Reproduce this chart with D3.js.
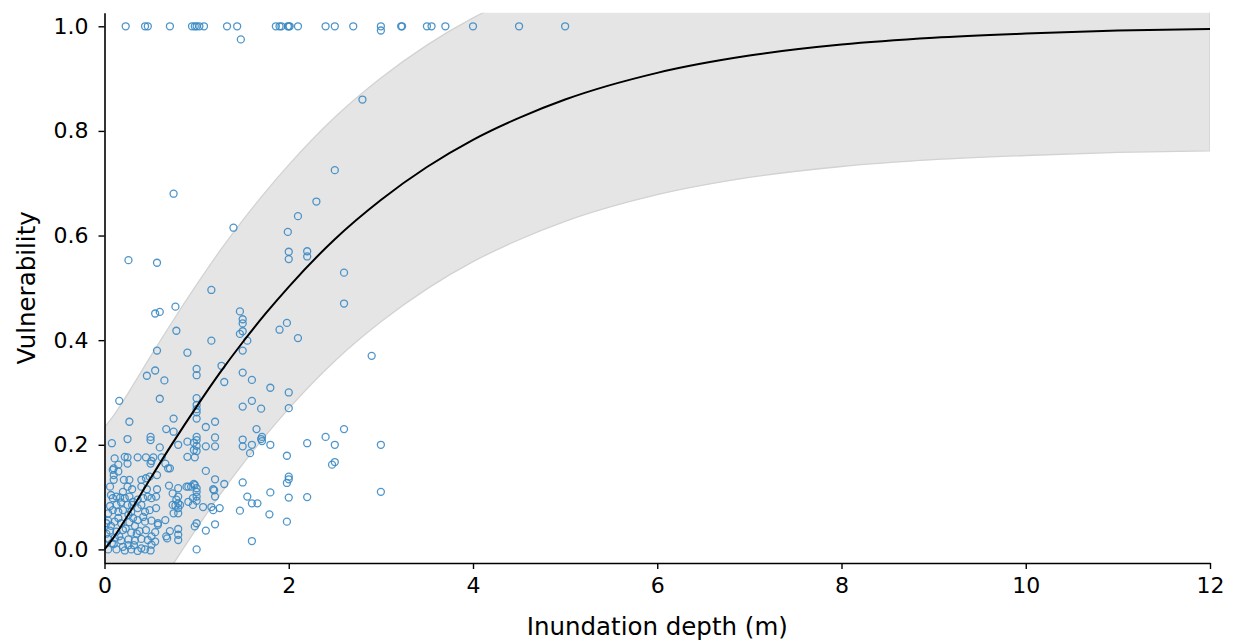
<!DOCTYPE html>
<html>
<head>
<meta charset="utf-8">
<script src="https://cdn.jsdelivr.net/npm/d3@7"></script>
<style>
  html, body { margin: 0; padding: 0; background: #fff; }
  svg { display: block; }
  text { font-family: "DejaVu Sans", sans-serif; fill: #000; }
</style>
</head>
<body>
<svg id="chart" width="1236" height="641"></svg>
<script>
// Fitted vulnerability curve and its band, sampled along depth (m)
const curveDepth = [0, 0.1, 0.25, 0.5, 0.75, 1, 1.25, 1.5, 1.75, 2, 2.5, 3, 3.5, 4, 4.5, 5, 6, 7, 8, 9, 10, 11, 12];
const curveVuln  = [0, 0.023, 0.064, 0.136, 0.206, 0.273, 0.337, 0.396, 0.451, 0.502, 0.593, 0.668, 0.731, 0.783, 0.825, 0.860, 0.911, 0.944, 0.965, 0.978, 0.986, 0.992, 0.995];
const bandLow    = [-0.233, -0.210, -0.169, -0.097, -0.027, 0.040, 0.104, 0.163, 0.218, 0.269, 0.360, 0.435, 0.498, 0.550, 0.592, 0.627, 0.678, 0.711, 0.732, 0.745, 0.753, 0.759, 0.762];
const bandHigh   = [0.233, 0.256, 0.297, 0.369, 0.439, 0.506, 0.570, 0.629, 0.684, 0.735, 0.826, 0.901, 0.964, 1.016, 1.058, 1.093, 1.144, 1.177, 1.198, 1.211, 1.219, 1.225, 1.228];

// Observed damage records: [depth (m), vulnerability]
const obsTotal = [
  [0.23,1],[0.44,1],[0.47,1],[0.71,1],[0.95,1],[0.98,1],[1.0,1],[1.03,1],[1.08,1],[1.33,1],[1.44,1],[1.48,0.975],
  [1.86,1],[1.9,1],[1.92,1],[1.99,1],[2.0,1],[2.01,1],[2.1,1],[2.4,1],[2.5,1],[2.7,1],[3.0,1],[3.0,0.992],
  [3.22,1],[3.23,1],[3.5,1],[3.55,1],[3.7,1],[4.0,1],[4.5,1],[5.0,1],[2.8,0.86]
];
const obsHigh = [
  [2.5,0.725],[0.75,0.68],[2.3,0.665],[2.1,0.637],[1.4,0.615],[1.99,0.607],[2.0,0.569],[2.2,0.57],[2.0,0.555],[2.2,0.56],
  [0.26,0.553],[0.57,0.548],[2.6,0.529],[2.6,0.47],[1.16,0.496],[0.77,0.464],[0.55,0.451],[0.6,0.454],[1.47,0.455],[1.5,0.44],
  [1.5,0.432],[1.47,0.412],[1.5,0.417],[1.55,0.399],[0.78,0.418],[1.16,0.399],[1.98,0.433],[1.9,0.42],[2.1,0.404],[0.57,0.38],
  [0.9,0.376],[1.5,0.38],[2.9,0.37],[0.55,0.342],[0.46,0.332],[1.0,0.345],[1.0,0.333],[1.27,0.351],[0.65,0.323],[1.3,0.32],
  [1.5,0.338],[1.6,0.324],[1.8,0.309],[2.0,0.3],[0.16,0.284],[0.6,0.288],[1.0,0.289],[1.0,0.276],[1.0,0.268],[1.0,0.262],
  [1.0,0.25],[1.5,0.273],[1.6,0.284],[1.7,0.269],[2.0,0.27],[0.27,0.244],[0.75,0.25],[1.2,0.244],[0.67,0.23],[0.75,0.225],
  [1.1,0.234],[1.65,0.23],[2.6,0.23]
];
const obsMid = [
  [1.7,0.211],[1.71,0.215],[2.4,0.215],[2.5,0.2],[3.0,0.2],[2.2,0.203],[1.8,0.2],[1.98,0.179],[2.47,0.162],[2.5,0.167],
  [2.0,0.139],[2.0,0.134],[1.98,0.127],[1.8,0.109],[2.2,0.1],[2.0,0.099],[1.5,0.128],[1.55,0.101],[1.6,0.088],[1.66,0.088],
  [3.0,0.11],[0.08,0.203],[0.25,0.211],[0.5,0.215],[0.5,0.209],[0.6,0.195],[0.8,0.2],[0.9,0.206],[0.97,0.204],[1.0,0.215],
  [1.0,0.209],[1.0,0.198],[1.1,0.197],[1.2,0.214],[1.2,0.197],[1.5,0.21],[1.5,0.197],[1.6,0.2],[1.58,0.184],[1.71,0.207],
  [0.97,0.19],[1.0,0.188],[0.25,0.176],[0.36,0.176],[0.45,0.176],[0.53,0.176],[0.62,0.176],[0.9,0.177],[0.98,0.176],[0.11,0.174],
  [0.22,0.177],[0.51,0.169],[0.69,0.155],[0.1,0.155],[0.15,0.162],[0.25,0.164],[0.5,0.164],[0.66,0.164],[0.71,0.155],[1.1,0.15],
  [0.09,0.152],[0.15,0.149],[0.1,0.142],[0.1,0.133],[0.21,0.133],[0.27,0.133],[0.4,0.133],[0.45,0.136],[0.49,0.139],[0.57,0.142],
  [0.25,0.12],[0.4,0.12],[0.57,0.115],[0.7,0.122],[0.8,0.117],[0.91,0.12],[0.98,0.123],[1.0,0.117],[1.18,0.115],[1.3,0.125],
  [1.2,0.134],[0.97,0.125],[1.0,0.11],[1.19,0.113],[0.06,0.12],[0.07,0.104],[0.89,0.12],[0.94,0.12],[0.74,0.107],[1.2,0.101],
  [1.0,0.101],[0.8,0.101]
];
const obsLow = [
  [1.47,0.074],[1.79,0.067],[1.98,0.053],[1.6,0.016],[1.0,0.0],[1.07,0.081],[1.16,0.081],[1.18,0.075],[1.25,0.079],[1.0,0.093],
  [0.91,0.091],[0.8,0.088],[0.77,0.084],[0.75,0.069],[0.8,0.069],[0.66,0.056],[0.58,0.047],[0.8,0.039],[0.8,0.028],[0.8,0.018],
  [1.0,0.05],[0.98,0.044],[1.1,0.036],[1.2,0.048],[0.68,0.021],[0.51,0.025],[0.51,0.009],[0.4,0.002],[0.96,0.098],[0.96,0.085],
  [0.78,0.095],[0.74,0.085],[0.82,0.085],[0.8,0.079],[0.67,0.025],[0.71,0.035],
  [0.09,0.098],[0.13,0.101],[0.17,0.099],[0.22,0.098],[0.27,0.101],[0.31,0.091],[0.36,0.095],[0.42,0.098],[0.47,0.101],[0.51,0.098],[0.56,0.101],
  [0.04,0.069],[0.09,0.075],[0.15,0.072],[0.2,0.075],[0.26,0.066],[0.29,0.072],[0.36,0.079],[0.44,0.072],[0.49,0.075],[0.56,0.079],
  [0.04,0.055],[0.11,0.053],[0.18,0.05],[0.27,0.052],[0.36,0.056],[0.44,0.053],[0.51,0.055],[0.58,0.05],
  [0.06,0.036],[0.13,0.034],[0.2,0.037],[0.29,0.032],[0.38,0.035],[0.45,0.037],[0.55,0.033],
  [0.04,0.02],[0.11,0.022],[0.18,0.017],[0.26,0.019],[0.33,0.017],[0.4,0.02],[0.47,0.018],[0.55,0.015],
  [0.04,0.0],[0.13,0.0],[0.22,-0.002],[0.29,0.0],[0.36,-0.003],[0.44,0.0],[0.5,-0.002],[0.0,0.01],
  [0.07,0.045],[0.15,0.06],[0.23,0.04],[0.31,0.06],[0.25,0.085],[0.33,0.045],[0.42,0.062],[0.16,0.025],[0.06,0.083],[0.2,0.11],
  [0.3,0.115],[0.35,0.03],[0.13,0.085],[0.02,0.05],[0.4,0.085],[0.46,0.115],[0.26,0.008],[0.18,0.09],[0.1,0.01],[0.3,0.085],
  [0.02,0.03],[0.2,0.005],[0.32,0.008],[0.08,0.012]
];

const xTicks = [0, 2, 4, 6, 8, 10, 12];
const yTicks = [0.0, 0.2, 0.4, 0.6, 0.8, 1.0];

const svg = d3.select("#chart");
const plotLeft = 104.5, plotRight = 1210, plotTop = 12.7, plotBottom = 563;

const x = d3.scaleLinear().domain([0, 12]).range([plotLeft, plotRight]);
const y = d3.scaleLinear().domain([-0.026, 1.026]).range([plotBottom, plotTop]);

svg.append("defs").append("clipPath").attr("id", "plotClip")
  .append("rect").attr("x", plotLeft).attr("y", plotTop)
  .attr("width", plotRight - plotLeft).attr("height", plotBottom - plotTop);

const plot = svg.append("g").attr("clip-path", "url(#plotClip)");

// Uncertainty band
const bandData = curveDepth.map((d, i) => ({ d, lo: bandLow[i], hi: bandHigh[i] }));
plot.append("path")
  .datum(bandData)
  .attr("d", d3.area().x(p => x(p.d)).y0(p => y(p.lo)).y1(p => y(p.hi)).curve(d3.curveMonotoneX))
  .attr("fill", "#e5e5e5")
  .attr("stroke", "#d2d2d2")
  .attr("stroke-width", 1.3);

// Observations
const allObs = obsTotal.concat(obsHigh, obsMid, obsLow);
plot.append("g").selectAll("circle")
  .data(allObs)
  .join("circle")
  .attr("cx", d => x(d[0]))
  .attr("cy", d => y(d[1]))
  .attr("r", 3.5)
  .attr("fill", "none")
  .attr("stroke", "#3a8ac4")
  .attr("stroke-opacity", 0.9)
  .attr("stroke-width", 1.3);

// Fitted curve
const curveData = curveDepth.map((d, i) => ({ d, v: curveVuln[i] }));
plot.append("path")
  .datum(curveData)
  .attr("d", d3.line().x(p => x(p.d)).y(p => y(p.v)).curve(d3.curveMonotoneX))
  .attr("fill", "none")
  .attr("stroke", "#000")
  .attr("stroke-width", 2);

// Axes
const xAxis = svg.append("g")
  .attr("transform", `translate(0,${plotBottom})`)
  .call(d3.axisBottom(x).tickValues(xTicks).tickFormat(d3.format("d")).tickSize(6).tickSizeOuter(0).tickPadding(8));
const yAxis = svg.append("g")
  .attr("transform", `translate(${plotLeft},0)`)
  .call(d3.axisLeft(y).tickValues(yTicks).tickFormat(d3.format(".1f")).tickSize(6).tickSizeOuter(0).tickPadding(10));

[xAxis, yAxis].forEach(g => {
  g.attr("font-family", null).attr("font-size", null);
  g.select(".domain").attr("stroke", "#000").attr("stroke-width", 1.6);
  g.selectAll(".tick line").attr("stroke", "#000").attr("stroke-width", 1.4);
  g.selectAll(".tick text")
    .attr("fill", "#000")
    .style("font-family", "'DejaVu Sans', sans-serif")
    .style("font-size", "22px");
});

// Axis titles
svg.append("text")
  .attr("x", (plotLeft + plotRight) / 2)
  .attr("y", 635)
  .attr("text-anchor", "middle")
  .style("font-size", "24.5px")
  .text("Inundation depth (m)");

svg.append("text")
  .attr("transform", `translate(35,${(plotTop + plotBottom) / 2}) rotate(-90)`)
  .attr("text-anchor", "middle")
  .style("font-size", "24.5px")
  .text("Vulnerability");
</script>
</body>
</html>
